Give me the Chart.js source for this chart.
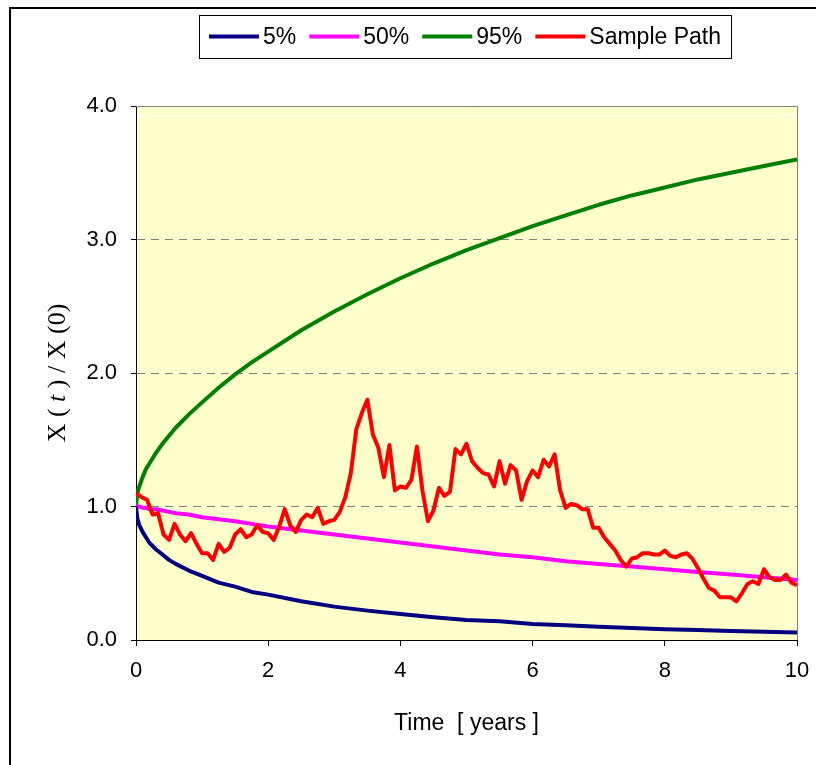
<!DOCTYPE html>
<html><head><meta charset="utf-8">
<script src="https://cdn.jsdelivr.net/npm/chart.js@4.4.1/dist/chart.umd.min.js"></script>
<style>html,body{margin:0;padding:0;background:#fff;}#wrap{width:816px;height:765px;position:relative;}</style>
</head><body><div id="wrap"><canvas id="c" width="816" height="765"></canvas></div>
<script>
// ---- data ----
const seriesLabels = ['5%', '50%', '95%', 'Sample Path'];
const seriesColors = ['#000080', '#FF00FF', '#008000', '#FF0000'];
const xTickValues = [0, 2, 4, 6, 8, 10];
const yTickValues = [0, 1, 2, 3, 4];
const xTitle = 'Time  [ years ]';

const pctTimes = [0, 0.02, 0.05, 0.1, 0.15, 0.2, 0.3, 0.4, 0.5, 0.6, 0.8, 1.0, 1.25, 1.5, 1.75, 2.0, 2.5, 3.0, 3.5, 4.0, 4.5, 5.0, 5.5, 6.0, 6.5, 7.0, 7.5, 8.0, 8.5, 9.0, 9.5, 10];
const p5 = [1.00, 0.91, 0.86, 0.81, 0.77, 0.73, 0.68, 0.64, 0.60, 0.57, 0.52, 0.48, 0.43, 0.40, 0.36, 0.34, 0.29, 0.25, 0.22, 0.195, 0.17, 0.15, 0.14, 0.12, 0.11, 0.10, 0.09, 0.08, 0.074, 0.068, 0.062, 0.056];
const p50 = [1.00, 1.00, 1.00, 0.99, 0.99, 0.98, 0.98, 0.97, 0.96, 0.95, 0.94, 0.92, 0.905, 0.89, 0.87, 0.85, 0.82, 0.79, 0.76, 0.73, 0.70, 0.67, 0.64, 0.62, 0.59, 0.57, 0.55, 0.53, 0.51, 0.49, 0.47, 0.45];
const p95 = [1.00, 1.10, 1.15, 1.22, 1.28, 1.32, 1.40, 1.47, 1.53, 1.59, 1.69, 1.78, 1.89, 1.99, 2.08, 2.16, 2.32, 2.46, 2.59, 2.71, 2.82, 2.92, 3.01, 3.10, 3.18, 3.26, 3.33, 3.39, 3.45, 3.50, 3.55, 3.60];

// monthly sample path, t = 0 .. 10 years
const sampleValues = [
  1.10, 1.07, 1.05, 0.94, 0.95, 0.79, 0.75, 0.87, 0.79, 0.74, 0.80, 0.72,
  0.65, 0.65, 0.60, 0.72, 0.66, 0.69, 0.79, 0.83, 0.77, 0.79, 0.86, 0.81,
  0.80, 0.75, 0.85, 0.98, 0.86, 0.81, 0.90, 0.94, 0.92, 0.99, 0.87, 0.89,
  0.90, 0.96, 1.07, 1.25, 1.58, 1.70, 1.80, 1.54, 1.44, 1.22, 1.46, 1.12,
  1.15, 1.14, 1.20, 1.45, 1.12, 0.89, 0.97, 1.14, 1.08, 1.11, 1.43, 1.39,
  1.47, 1.34, 1.29, 1.25, 1.24, 1.15, 1.34, 1.17, 1.31, 1.27, 1.05, 1.19,
  1.27, 1.22, 1.35, 1.30, 1.39, 1.12, 0.99, 1.02, 1.01, 0.98, 0.98, 0.84,
  0.84, 0.77, 0.72, 0.67, 0.60, 0.55, 0.61, 0.62, 0.65, 0.65, 0.64, 0.64,
  0.67, 0.63, 0.62, 0.64, 0.65, 0.61, 0.54, 0.46, 0.39, 0.37, 0.32, 0.32,
  0.32, 0.29, 0.35, 0.42, 0.44, 0.42, 0.53, 0.47, 0.45, 0.45, 0.49, 0.43,
  0.41
];
const sampleTimes = sampleValues.map((_, i) => i / 12);

const pts = (xs, ys) => ys.map((y, i) => ({x: xs[i], y: y}));
const seriesData = [pts(pctTimes, p5), pts(pctTimes, p50), pts(pctTimes, p95), pts(sampleTimes, sampleValues)];

const SANS = '"Liberation Sans", Arial, sans-serif';
const SERIF = '"Liberation Serif", "Times New Roman", serif';

const decor = {
  id: 'decor',
  beforeDraw(chart) {
    const {ctx, chartArea: a} = chart;
    ctx.save();
    ctx.fillStyle = '#FFFFFF';
    ctx.fillRect(0, 0, chart.width, chart.height);
    ctx.fillStyle = '#FFFFCC';
    ctx.fillRect(a.left, a.top, a.right - a.left, a.bottom - a.top);
    // faint white line just below the top edge
    ctx.strokeStyle = '#FFFFFF';
    ctx.lineWidth = 1;
    ctx.beginPath();
    ctx.moveTo(a.left + 1, a.top + 9.5);
    ctx.lineTo(a.right, a.top + 9.5);
    ctx.stroke();
    ctx.restore();
  },
  afterDraw(chart) {
    const {ctx, chartArea: a} = chart;
    ctx.save();
    // plot border top/right
    ctx.strokeStyle = '#808080';
    ctx.lineWidth = 1;
    ctx.beginPath();
    ctx.moveTo(a.left, a.top + 0.5);
    ctx.lineTo(a.right + 0.5, a.top + 0.5);
    ctx.lineTo(a.right + 0.5, a.bottom);
    ctx.stroke();
    // outer frame
    ctx.strokeStyle = '#000';
    ctx.lineWidth = 2;
    ctx.beginPath();
    ctx.moveTo(10, chart.height + 5);
    ctx.lineTo(10, 8);
    ctx.lineTo(chart.width + 5, 8);
    ctx.stroke();

    // y title with italic t
    const parts = [['X ( ', 'normal'], ['t', 'italic'], [' ) / X (0)', 'normal']];
    const fs = 26;
    let total = 0;
    parts.forEach(p => { ctx.font = p[1] + ' ' + fs + 'px ' + SERIF; p.push(ctx.measureText(p[0]).width); total += p[2]; });
    ctx.translate(58, (a.top + a.bottom) / 2);
    ctx.rotate(-Math.PI / 2);
    ctx.fillStyle = '#000';
    ctx.textBaseline = 'middle';
    ctx.textAlign = 'left';
    let x = -total / 2;
    parts.forEach(p => { ctx.font = p[1] + ' ' + fs + 'px ' + SERIF; ctx.fillText(p[0], x, 0); x += p[2]; });
    ctx.setTransform(1, 0, 0, 1, 0, 0);

    // legend
    ctx.font = '23px ' + SANS;
    const boxL = 199, boxT = 15, boxH = 43;
    let cx = 209;
    const items = [];
    chart.data.datasets.forEach(ds => {
      const w = ctx.measureText(ds.label).width;
      items.push({x: cx, w: w, color: ds.borderColor, label: ds.label});
      cx += 50 + 4 + w + 13;
    });
    const boxR = cx - 13 + 10;
    ctx.fillStyle = '#FFFFFF';
    ctx.fillRect(boxL, boxT, boxR - boxL, boxH);
    ctx.strokeStyle = '#000';
    ctx.lineWidth = 1;
    ctx.strokeRect(boxL + 0.5, boxT + 0.5, boxR - boxL, boxH);
    const my = boxT + boxH / 2;
    items.forEach(it => {
      ctx.strokeStyle = it.color;
      ctx.lineWidth = 4;
      ctx.beginPath();
      ctx.moveTo(it.x, my);
      ctx.lineTo(it.x + 50, my);
      ctx.stroke();
      ctx.fillStyle = '#000';
      ctx.textBaseline = 'middle';
      ctx.textAlign = 'left';
      ctx.fillText(it.label, it.x + 54, my + 1);
    });
    ctx.restore();
  }
};

new Chart(document.getElementById('c'), {
  type: 'line',
  data: {
    datasets: seriesData.map((d, i) => ({
      label: seriesLabels[i],
      data: d,
      borderColor: seriesColors[i],
      backgroundColor: seriesColors[i],
      borderWidth: 4,
      pointRadius: 0,
      tension: 0,
      fill: false,
      borderJoinStyle: 'round',
      order: i === 3 ? -1 : i
    }))
  },
  options: {
    responsive: false,
    animation: false,
    devicePixelRatio: 1,
    layout: {padding: {left: 0, top: 106, right: 19, bottom: 0}},
    plugins: {legend: {display: false}, tooltip: {enabled: false}},
    scales: {
      x: {
        type: 'linear', min: 0, max: 10,
        afterBuildTicks: s => { s.ticks = xTickValues.map(v => ({value: v})); },
        afterFit: s => { s.height = 125; s.paddingLeft = 0; s.paddingRight = 0; },
        grid: {drawOnChartArea: false, drawTicks: true, tickLength: 6, tickColor: '#000', tickWidth: 1},
        border: {display: true, color: '#000', width: 1},
        ticks: {color: '#000', font: {family: SANS, size: 22}, padding: 12, maxRotation: 0, autoSkip: false},
        title: {display: true, text: xTitle, color: '#000', font: {family: SANS, size: 23}, padding: {top: 0, bottom: 28}}
      },
      y: {
        type: 'linear', min: 0, max: 4,
        afterBuildTicks: s => { s.ticks = yTickValues.map(v => ({value: v})); },
        afterFit: s => { s.width = 136; s.paddingTop = 0; s.paddingBottom = 0; },
        grid: {
          color: c => (c.tick && (c.tick.value === 0 || c.tick.value === 4)) ? 'rgba(0,0,0,0)' : '#808080',
          lineWidth: 1, drawTicks: true, tickLength: 5, tickColor: '#000', tickWidth: 1
        },
        border: {display: true, color: '#000', width: 1, dash: [8, 6]},
        ticks: {color: '#000', font: {family: SANS, size: 22}, padding: 14, callback: v => Number(v).toFixed(1)}
      }
    }
  },
  plugins: [decor]
});
</script></body></html>
